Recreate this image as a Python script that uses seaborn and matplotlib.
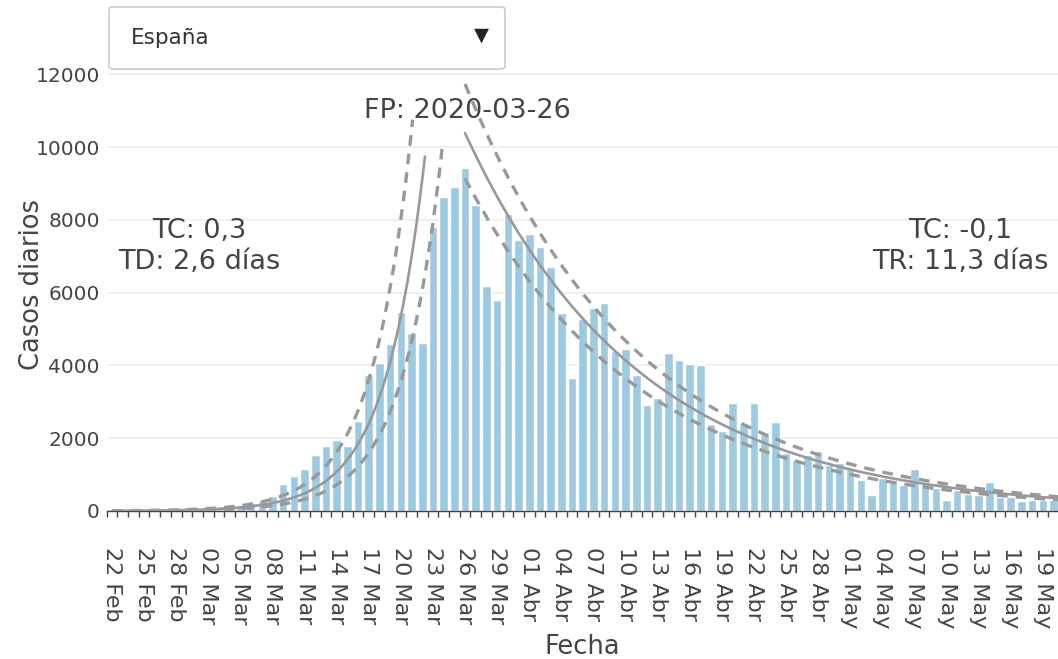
import numpy as np
import pandas as pd
import matplotlib
matplotlib.use('Agg')
import matplotlib.pyplot as plt
import seaborn as sns
from matplotlib.patches import FancyBboxPatch

# ---------------------- datos: casos diarios en España ----------------------
casos = [0, 0, 1, 2, 5, 10, 15, 15, 30, 40,
         60, 100, 165, 211, 284, 413, 743, 963, 1155, 1541,
         1780, 1960, 1786, 2473, 3728, 4075, 4579, 5476, 4899, 4606,
         7811, 8635, 8901, 9431, 8407, 6190, 5797, 8151, 7445, 7601,
         7253, 6703, 5448, 3662, 5265, 5586, 5723, 4396, 4442, 3728,
         2903, 3113, 4341, 4140, 4047, 4011, 2382, 2198, 2958, 2382,
         2958, 2124, 2445, 1595, 1390, 1550, 1660, 1270, 1320, 1145,
         860, 440, 905, 815, 715, 1145, 770, 630, 305, 565,
         458, 430, 788, 380, 390, 275, 300, 300, 300]

fechas = pd.date_range('2020-02-22', periods=len(casos), freq='D')
meses = {2: 'Feb', 3: 'Mar', 4: 'Abr', 5: 'May'}
etiquetas = [f"{f.day:02d} {meses[f.month]}" for f in fechas]

# ---------------------- ajustes exponenciales ----------------------
crec_inicial = 4.0                 # casos del ajuste en el día 0
crec_tasa = np.log(2) / 2.6        # TD: 2,6 días
crec_banda = 1.5
crec_fin = {'centro': 29.25, 'alta': 28.1, 'baja': 30.9}

pico_dia = 33                      # FP: 2020-03-26
dec_inicial = 10385                # casos del ajuste en el pico
dec_tasa = -np.log(2) / 11.3       # TR: 11,3 días
dec_banda = {'alta': 1.13, 'baja': 0.88}

# ---------------------- estilo ----------------------
sns.set_theme(style="white")
plt.rcParams['font.family'] = ['DejaVu Sans']
texto = '#444444'
gris = '#999999'
guiones = (0, (3.2, 2.4))

fig = plt.figure(figsize=(10.58, 6.59), dpi=100)
ax = fig.add_axes([0.1008, 0.2246, 0.9, 0.6874])

df = pd.DataFrame({'dia': np.arange(len(casos)), 'casos': casos})
sns.barplot(data=df, x='dia', y='casos', color='#9ecae1', saturation=1,
            width=0.8, ax=ax, zorder=2)

# curva de crecimiento
for banda, factor in [('centro', 1.0), ('alta', crec_banda), ('baja', 1 / crec_banda)]:
    t = np.linspace(0, crec_fin[banda], 300)
    y = factor * crec_inicial * np.exp(crec_tasa * t)
    if banda == 'centro':
        ax.plot(t, y, color=gris, lw=1.9, zorder=3)
    else:
        ax.plot(t, y, color=gris, lw=2.4, ls=guiones, zorder=3)

# curva de descenso
t = np.linspace(pico_dia, len(casos) - 0.5, 300)
y_dec = dec_inicial * np.exp(dec_tasa * (t - pico_dia))
ax.plot(t, y_dec, color=gris, lw=1.9, zorder=3)
for banda in ['alta', 'baja']:
    ax.plot(t, dec_banda[banda] * y_dec, color=gris, lw=2.4, ls=guiones, zorder=3)

# anotaciones
ax.text(8.2, 7280, "TC: 0,3\nTD: 2,6 días", ha='center', va='center',
        fontsize=19.5, color=texto, linespacing=1.25, zorder=5)
ax.text(79.3, 7280, "TC: -0,1\nTR: 11,3 días", ha='center', va='center',
        fontsize=19.5, color=texto, linespacing=1.25, zorder=5)
ax.text(33.2, 10990, "FP: 2020-03-26", ha='center', va='center',
        fontsize=19.5, color=texto, zorder=5)

# ejes
ax.set_xlim(-0.5, len(casos) - 0.55)
ax.set_ylim(0, 12450)
ax.set_xticks(np.arange(0, len(casos), 3))
ax.set_xticklabels(etiquetas[::3])
ax.set_xticks(np.arange(-0.5, len(casos), 1), minor=True)
ax.set_yticks(np.arange(0, 12001, 2000))
ax.tick_params(axis='x', which='major', length=0, pad=26, labelsize=16,
               labelcolor=texto, rotation=-90)
ax.tick_params(axis='x', which='minor', length=4, width=1, color=texto, bottom=True)
ax.tick_params(axis='y', length=0, pad=5, labelsize=14.5, labelcolor=texto)
ax.yaxis.grid(True, color='#eeeeee', lw=1.3)
ax.set_axisbelow(True)
for lado in ['top', 'right', 'left']:
    ax.spines[lado].set_visible(False)
ax.spines['bottom'].set_color(texto)
ax.spines['bottom'].set_linewidth(1)
ax.set_xlabel('Fecha', fontsize=18.5, color=texto, labelpad=4)
ax.set_ylabel('Casos diarios', fontsize=18.5, color=texto, labelpad=-7)

# selector desplegable
caja = FancyBboxPatch((109 / 1058, 1 - 69 / 659), 396 / 1058, 62 / 659,
                      boxstyle='round,pad=0,rounding_size=0.004',
                      transform=fig.transFigure, facecolor='white',
                      edgecolor='#c4cbd9', lw=1.2, zorder=10)
fig.add_artist(caja)
fig.text(131 / 1058, 1 - 38 / 659, 'España', fontsize=15.5, color='#333333',
         va='center', ha='left', zorder=11)
fig.text(481 / 1058, 1 - 35 / 659, '▼', fontsize=14, color='#222222',
         va='center', ha='center', zorder=11)

plt.savefig('out.png', dpi=100)
